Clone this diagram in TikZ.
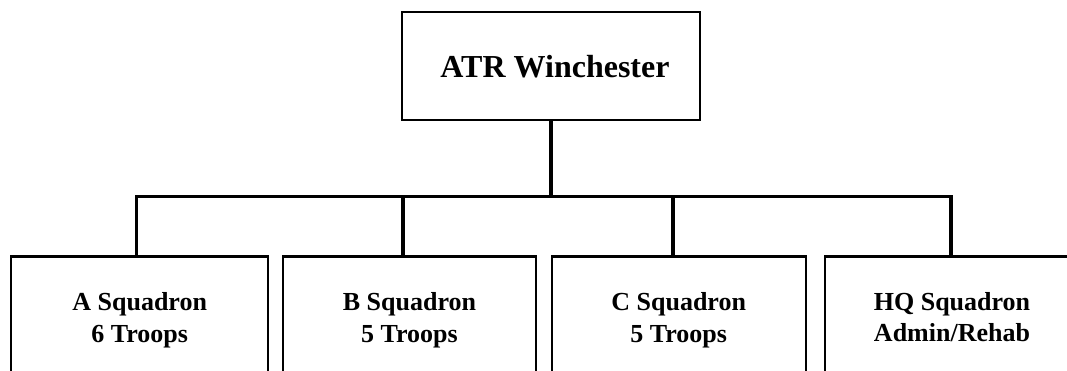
\documentclass[tikz,border=0pt]{standalone}
\usepackage{fontspec}
\setmainfont{Liberation Serif}
\begin{document}
\begin{tikzpicture}[x=1pt,y=-1pt,
  box/.style={draw=black,line width=2.3pt,fill=white,rectangle,inner sep=0pt,align=center},
  topbox/.style={box,minimum width=298pt,minimum height=108pt,font=\fontsize{32}{38}\selectfont\bfseries},
  unitbox/.style={box,minimum width=254pt,minimum height=127pt,font=\fontsize{26}{31.7}\selectfont\bfseries},
  conn/.style={draw=black,line width=3.3pt}]
\useasboundingbox (0,0) rectangle (1067,370);
\clip (0,0) rectangle (1067,370);
\fill[white] (0,0) rectangle (1067,370);
\node[topbox] (hq) at (551,66.3) {\hspace*{8pt}\raisebox{-2pt}{ATR Winchester}};
\node[unitbox,minimum width=257pt] (a) at (139.7,320) {A Squadron\\6 Troops};
\node[unitbox,minimum width=252.4pt] (b) at (409.5,320) {B Squadron\\5 Troops};
\node[unitbox] (c) at (678.7,320) {C Squadron\\5 Troops};
\node[unitbox,minimum height=121pt] (d) at (952,317) {HQ Squadron\\Admin/Rehab};
\coordinate (bus) at (551,196.7);
\coordinate (ta) at (136.3,256.7);
\coordinate (tb) at (402.9,256.7);
\coordinate (tc) at (673.1,256.7);
\coordinate (td) at (951,256.7);
\draw[conn] (hq.south) -- (bus);
\draw[conn] (bus) -| (ta) -- (ta |- a.north);
\draw[conn] (bus) -| (tb) -- (tb |- b.north);
\draw[conn] (bus) -| (tc) -- (tc |- c.north);
\draw[conn] (bus) -| (td) -- (td |- d.north);
\end{tikzpicture}
\end{document}
